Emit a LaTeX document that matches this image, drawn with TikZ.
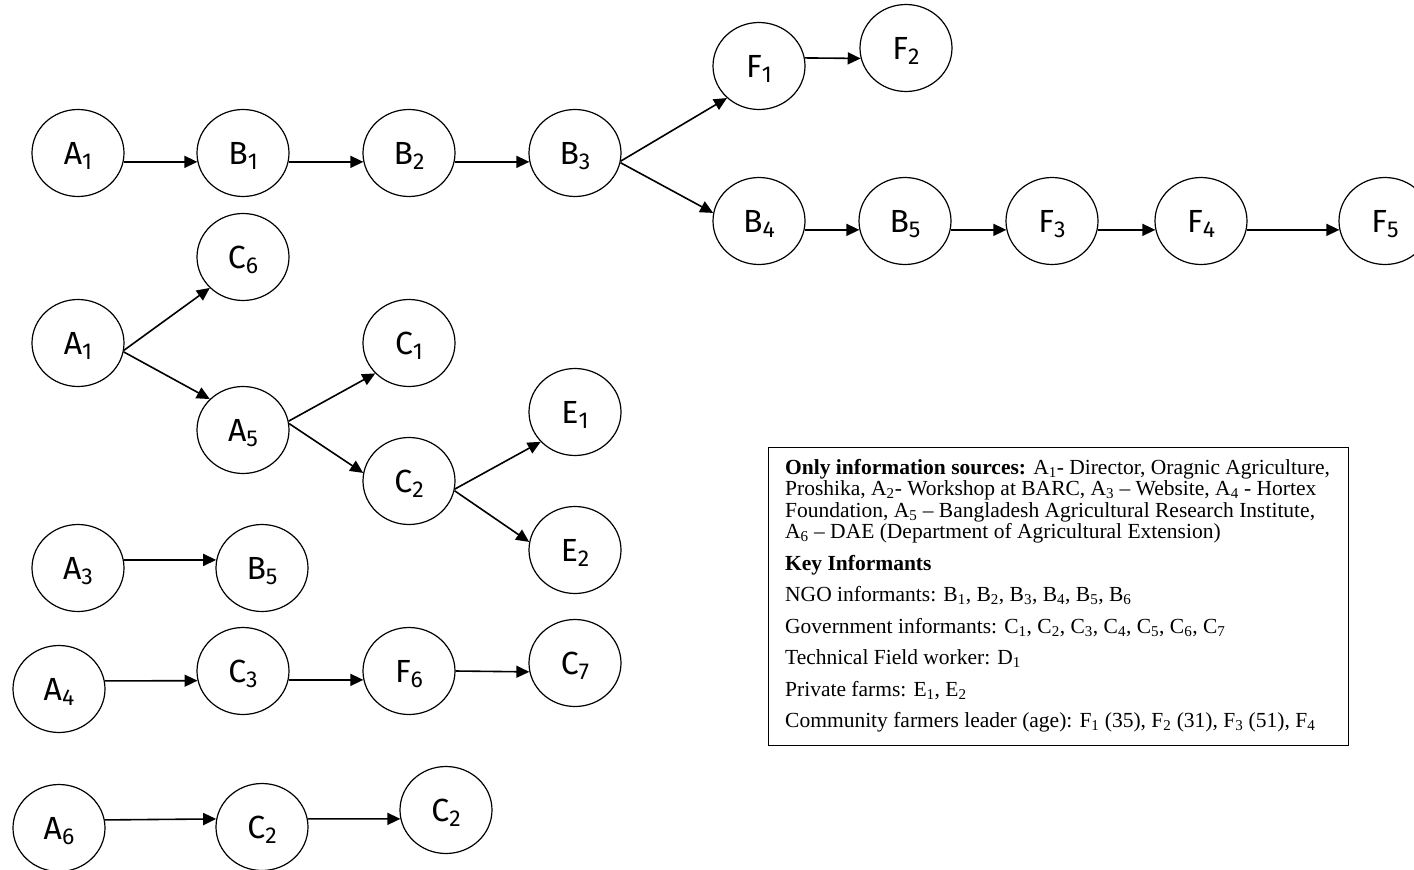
\documentclass[tikz,border=0pt]{standalone}
\usepackage{fontspec}
\setmainfont{Liberation Serif}
\newfontfamily\nodefont{Fira Sans}
\usetikzlibrary{arrows.meta,shapes.geometric}
\newcommand\lbl[2]{#1\raisebox{-5pt}{\fontsize{23}{23}\selectfont #2}\hspace{7pt}}
\newcommand\sbt[1]{\textsubscript{#1}}
\begin{document}
\begin{tikzpicture}[x=1pt,y=-1pt,
  ell/.style={ellipse,draw,line width=1.2pt,minimum width=92pt,minimum height=87pt,inner sep=0pt,
    font=\nodefont\fontsize{32}{32}\selectfont,text depth=0pt},
  arr/.style={line width=1.6pt,-{Triangle[length=13pt,width=12pt]}}]
\useasboundingbox (0,0) rectangle (1414,870);
\clip (0,0) rectangle (1414,870);
% row 1
\node[ell] (A1a) at (78,153) {\lbl{A}{1}};
\node[ell] (B1) at (243,153) {\lbl{B}{1}};
\node[ell] (B2) at (409,153) {\lbl{B}{2}};
\node[ell] (B3) at (575,153) {\lbl{B}{3}};
\node[ell] (F1) at (759,66) {\lbl{F}{1}};
\node[ell] (F2) at (906,48) {\lbl{F}{2}};
\node[ell] (B4) at (759,221) {\lbl{B}{4}};
\node[ell] (B5a) at (905,221) {\lbl{B}{5}};
\node[ell] (F3) at (1052,221) {\lbl{F}{3}};
\node[ell] (F4) at (1201,221) {\lbl{F}{4}};
\node[ell] (F5) at (1385,221) {\lbl{F}{5}};
\draw[arr] (A1a.-11) -- (B1.191);
\draw[arr] (B1.-11) -- (B2.191);
\draw[arr] (B2.-11) -- (B3.191);
\draw[arr] (B3.-10) -- (F1.225);
\draw[arr] (B3.-12) -- (B4.170);
\draw[arr] (F1.10) -- (F2.193);
\draw[arr] (B4.-11) -- (B5a.191);
\draw[arr] (B5a.-11) -- (F3.191);
\draw[arr] (F3.-11) -- (F4.191);
\draw[arr] (F4.-11) -- (F5.191);
% cluster 2
\node[ell] (A1b) at (78,343) {\lbl{A}{1}};
\node[ell] (C6) at (243,257) {\lbl{C}{6}};
\node[ell] (A5) at (243,430) {\lbl{A}{5}};
\node[ell] (C1) at (409,343) {\lbl{C}{1}};
\node[ell] (C2a) at (409,481) {\lbl{C}{2}};
\node[ell] (E1) at (575,412) {\lbl{E}{1}};
\node[ell] (E2) at (575,550) {\lbl{E}{2}};
\draw[arr] (A1b.-9) -- (C6.223);
\draw[arr] (A1b.-11) -- (A5.137);
\draw[arr] (A5.11) -- (C1.222);
\draw[arr] (A5.8) -- (C2a.170);
\draw[arr] (C2a.-10) -- (E1.221);
\draw[arr] (C2a.-12) -- (E2.170);
% A3
\node[ell] (A3) at (78,568) {\lbl{A}{3}};
\node[ell] (B5b) at (262,568) {\lbl{B}{5}};
\draw[arr] (A3.10) -- (B5b.170);
% A4
\node[ell] (A4) at (59,689) {\lbl{A}{4}};
\node[ell] (C3) at (243,671) {\lbl{C}{3}};
\node[ell] (F6) at (409,671) {\lbl{F}{6}};
\node[ell] (C7) at (575,663) {\lbl{C}{7}};
\draw[arr] (A4.10) -- (C3.192);
\draw[arr] (C3.-11) -- (F6.191);
\draw[arr] (F6.0) -- (C7.191);
% A6
\node[ell] (A6) at (59,828) {\lbl{A}{6}};
\node[ell] (C2b) at (262,827) {\lbl{C}{2}};
\node[ell] (C2c) at (446,810) {\lbl{C}{2}};
\draw[arr] (A6.10) -- (C2b.170);
\draw[arr] (C2b.10) -- (C2c.191);
% legend
\node (legend) [draw,line width=1.1pt,anchor=north west,minimum width=580pt,minimum height=298pt,inner sep=0pt] at (768,447) {};
\node (legtext) [anchor=north west,inner sep=0pt,align=left,font=\fontsize{21.5}{21.5}\selectfont] at (785,459) {%
\textbf{Only information sources:} A\sbt{1}- Director, Oragnic Agriculture,\\
Proshika, A\sbt{2}- Workshop at BARC, A\sbt{3} – Website, A\sbt{4} - Hortex\\
Foundation, A\sbt{5} – Bangladesh Agricultural Research Institute,\\
A\sbt{6} – DAE (Department of Agricultural Extension)\\[10pt]
\textbf{Key Informants}\\[10pt]
NGO informants: B\sbt{1}, B\sbt{2}, B\sbt{3}, B\sbt{4}, B\sbt{5}, B\sbt{6}\\[10pt]
Government informants: C\sbt{1}, C\sbt{2}, C\sbt{3}, C\sbt{4}, C\sbt{5}, C\sbt{6}, C\sbt{7}\\[10pt]
Technical Field worker: D\sbt{1}\\[10pt]
Private farms: E\sbt{1}, E\sbt{2}\\[10pt]
Community farmers leader (age): F\sbt{1} (35), F\sbt{2} (31), F\sbt{3} (51), F\sbt{4}};
\end{tikzpicture}
\end{document}
